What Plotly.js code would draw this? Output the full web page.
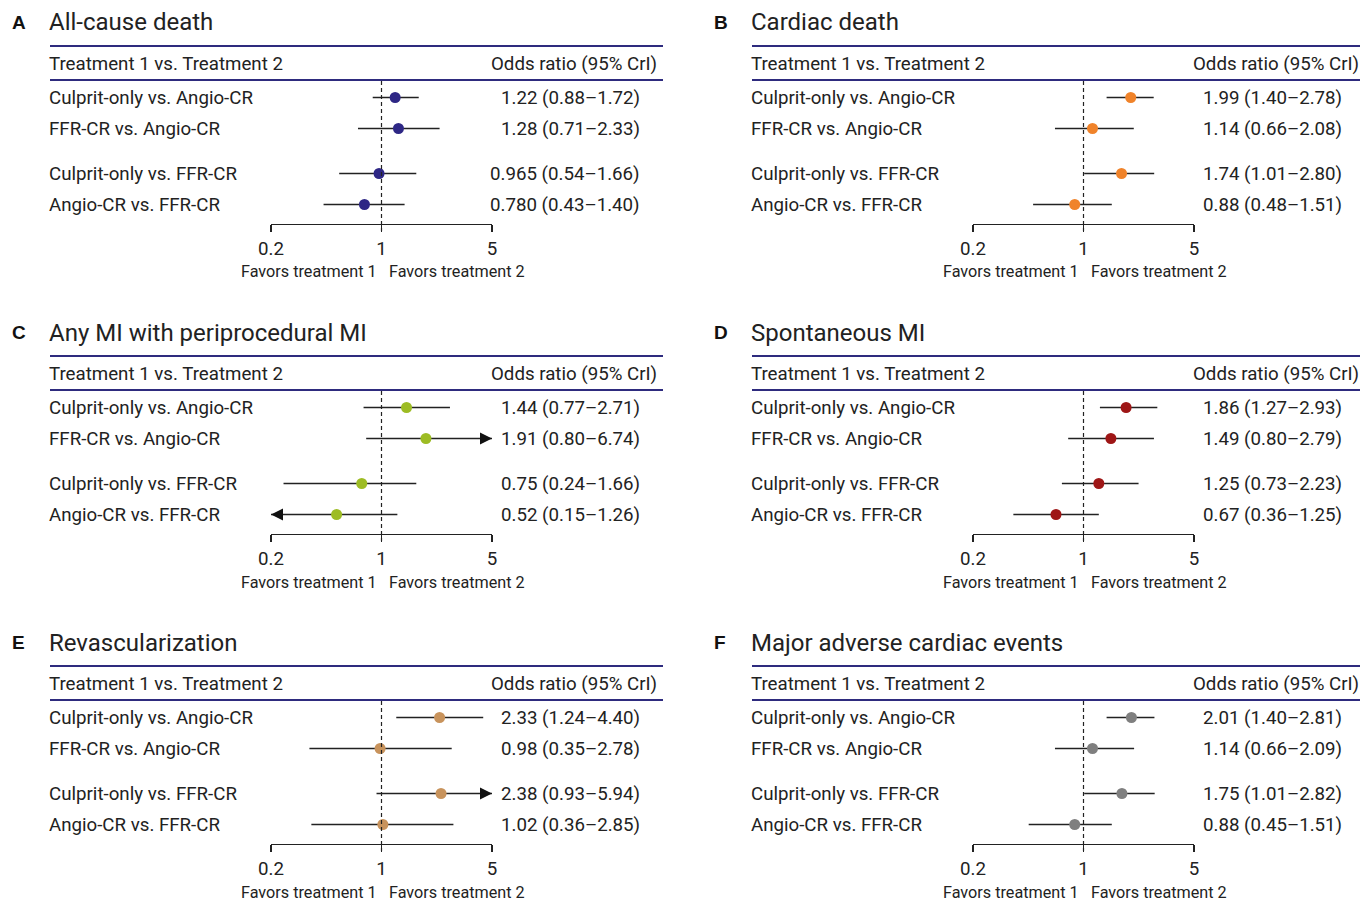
<!DOCTYPE html>
<html><head><meta charset="utf-8">
<script src="https://cdn.plot.ly/plotly-3.0.1.min.js"></script>
<style>html,body{margin:0;padding:0;background:#fff}</style>
</head><body><div id="chart" style="width:1360px;height:902px"></div>
<script>
// ---------------- data ----------------
const panelLetters = ["A", "B", "C", "D", "E", "F"];
const panelTitles = ["All-cause death", "Cardiac death", "Any MI with periprocedural MI",
  "Spontaneous MI", "Revascularization", "Major adverse cardiac events"];
const comparisons = ["Culprit-only vs. Angio-CR", "FFR-CR vs. Angio-CR",
  "Culprit-only vs. FFR-CR", "Angio-CR vs. FFR-CR"];

const allCauseOR = [1.22, 1.28, 0.965, 0.780];
const allCauseLo = [0.88, 0.71, 0.54, 0.43];
const allCauseHi = [1.72, 2.33, 1.66, 1.40];
const allCauseDigits = [2, 2, 3, 3];

const cardiacOR = [1.99, 1.14, 1.74, 0.88];
const cardiacLo = [1.40, 0.66, 1.01, 0.48];
const cardiacHi = [2.78, 2.08, 2.80, 1.51];

const anyMiOR = [1.44, 1.91, 0.75, 0.52];
const anyMiLo = [0.77, 0.80, 0.24, 0.15];
const anyMiHi = [2.71, 6.74, 1.66, 1.26];

const spontMiOR = [1.86, 1.49, 1.25, 0.67];
const spontMiLo = [1.27, 0.80, 0.73, 0.36];
const spontMiHi = [2.93, 2.79, 2.23, 1.25];

const revascOR = [2.33, 0.98, 2.38, 1.02];
const revascLo = [1.24, 0.35, 0.93, 0.36];
const revascHi = [4.40, 2.78, 5.94, 2.85];

const maceOR = [2.01, 1.14, 1.75, 0.88];
const maceLo = [1.40, 0.66, 1.01, 0.45];
const maceHi = [2.81, 2.09, 2.82, 1.51];

const defaultDigits = [2, 2, 2, 2];
const pointColors = ["#2e2785", "#f0832a", "#9dbc24", "#9e1616", "#c8935c", "#7f7f7f"];

const tickValues = [0.2, 1, 5];
const tickLabels = ["0.2", "1", "5"];
const axisMin = 0.2, axisMax = 5;
const headerLeft = "Treatment 1 vs. Treatment 2";
const headerRight = "Odds ratio (95% CrI)";
const favorsLeft = "Favors treatment 1";
const favorsRight = "Favors treatment 2";

const panels = [
  {or: allCauseOR, lo: allCauseLo, hi: allCauseHi, digits: allCauseDigits},
  {or: cardiacOR, lo: cardiacLo, hi: cardiacHi, digits: defaultDigits},
  {or: anyMiOR, lo: anyMiLo, hi: anyMiHi, digits: defaultDigits},
  {or: spontMiOR, lo: spontMiLo, hi: spontMiHi, digits: defaultDigits},
  {or: revascOR, lo: revascLo, hi: revascHi, digits: defaultDigits},
  {or: maceOR, lo: maceLo, hi: maceHi, digits: defaultDigits}
];

// ---------------- layout geometry ----------------
const W = 1360, H = 902;
const FONT = "Roboto, 'Noto Sans', Arial, sans-serif";
const TXT = "#222";
const NAVY = "#2e2b7e";
const FS = 18.7, FS_TITLE = 24, FS_FAV = 16.2;
const colOffset = 702, rowOffset = 310;
const rowGap = 31, groupGap = 14;
const rowPos = comparisons.map((_, i) => i + (i >= 2 ? groupGap / rowGap : 0));
const px = x => x / W;
const py = y => 1 - y / H;

const data = [];
const layout = {
  width: W, height: H,
  margin: {l: 0, r: 0, t: 0, b: 0},
  paper_bgcolor: "#fff", plot_bgcolor: "rgba(0,0,0,0)",
  showlegend: false,
  font: {family: FONT, color: TXT},
  shapes: [], annotations: []
};

function ann(o) {
  return Object.assign({showarrow: false, xref: "paper", yref: "paper", borderpad: 0,
    font: {family: FONT, size: FS, color: TXT}}, o);
}

panels.forEach((p, i) => {
  const c = i % 2, r = Math.floor(i / 2);
  const ox = c * colOffset, oy = r * rowOffset;
  const xa = "xaxis" + (i + 1), ya = "yaxis" + (i + 1);
  const xr = "x" + (i + 1), yr = "y" + (i + 1);

  const row0 = 97.5 + oy;           // pixel of first row
  const topPix = 81 + oy, botPix = 224 + oy;
  const yTopVal = (topPix - row0) / rowGap;
  const yBotVal = (botPix - row0) / rowGap;

  layout[xa] = {
    type: "log", range: [Math.log10(axisMin), Math.log10(axisMax)],
    domain: [px(271 + ox), px(492 + ox)], anchor: yr,
    showline: true, linecolor: "#222", linewidth: 1.3,
    ticks: "outside", ticklen: 7, tickwidth: 1.3, tickcolor: "#222",
    tickmode: "array", tickvals: tickValues, ticktext: tickLabels,
    tickfont: {family: FONT, size: FS, color: TXT}, ticklabelstandoff: 0,
    showgrid: false, zeroline: false, fixedrange: true
  };
  layout[ya] = {
    domain: [py(botPix), py(topPix)], range: [yBotVal, yTopVal], anchor: xr,
    visible: false, showgrid: false, zeroline: false, fixedrange: true
  };

  // CI lines (clipped to axis range)
  const lx = [], ly = [];
  const ax = [], ay = [], asym = [];
  p.or.forEach((v, k) => {
    lx.push(Math.max(p.lo[k], axisMin), Math.min(p.hi[k], axisMax), null);
    ly.push(rowPos[k], rowPos[k], null);
    if (p.hi[k] > axisMax) { ax.push(axisMax); ay.push(rowPos[k]); asym.push("arrow-right"); }
    if (p.lo[k] < axisMin) { ax.push(axisMin); ay.push(rowPos[k]); asym.push("arrow-left"); }
  });
  data.push({type: "scatter", mode: "lines", x: lx, y: ly, xaxis: xr, yaxis: yr,
    line: {color: "#222", width: 1.4}, hoverinfo: "skip", connectgaps: false});
  if (ax.length) {
    data.push({type: "scatter", mode: "markers", x: ax, y: ay, xaxis: xr, yaxis: yr,
      marker: {symbol: asym, size: 12, color: "#111"}, cliponaxis: false, hoverinfo: "skip"});
  }
  data.push({type: "scatter", mode: "markers", x: p.or, y: rowPos, xaxis: xr, yaxis: yr,
    marker: {symbol: "circle", size: 11, color: pointColors[i]}, cliponaxis: false,
    hoverinfo: "x"});

  // reference line at OR = 1
  layout.shapes.push({type: "line", xref: xr, yref: "paper", x0: 1, x1: 1,
    y0: py(81 + oy), y1: py(231 + oy), line: {color: "#222", width: 1.2, dash: "4px,3px"}});
  // navy rules
  [46, 80].forEach(yy => layout.shapes.push({type: "line", xref: "paper", yref: "paper",
    x0: px(50 + ox), x1: px(663 + ox + c * 10), y0: py(yy + oy), y1: py(yy + oy),
    line: {color: NAVY, width: 2}}));

  // texts
  layout.annotations.push(ann({x: px(11 + ox), y: py(22.5 + oy), xanchor: "left", yanchor: "middle",
    text: "<b>" + panelLetters[i] + "</b>", font: {family: "'Liberation Sans', Arial, sans-serif", size: 19, color: "#111"}}));
  layout.annotations.push(ann({x: px(48 + ox), y: py(22.5 + oy), xanchor: "left", yanchor: "middle",
    text: panelTitles[i], font: {family: FONT, size: FS_TITLE, color: "#222"}}));
  layout.annotations.push(ann({x: px(48 + ox), y: py(63.5 + oy), xanchor: "left", yanchor: "middle",
    text: headerLeft}));
  layout.annotations.push(ann({x: px(658 + ox), y: py(63.5 + oy), xanchor: "right", yanchor: "middle",
    text: headerRight}));
  comparisons.forEach((lab, k) => {
    layout.annotations.push(ann({x: px(48 + ox), yref: yr, y: rowPos[k], xanchor: "left", yanchor: "middle",
      text: lab}));
    const t = p.or[k].toFixed(p.digits[k]) + " (" + p.lo[k].toFixed(2) + "\u2013" + p.hi[k].toFixed(2) + ")";
    layout.annotations.push(ann({x: px(641 + ox), yref: yr, y: rowPos[k], xanchor: "right", yanchor: "middle",
      text: t}));
  });
  layout.annotations.push(ann({x: px(378 + ox), y: py(272 + oy), xanchor: "right", yanchor: "middle",
    text: favorsLeft, font: {family: FONT, size: FS_FAV, color: TXT}}));
  layout.annotations.push(ann({x: px(388 + ox), y: py(272 + oy), xanchor: "left", yanchor: "middle",
    text: favorsRight, font: {family: FONT, size: FS_FAV, color: TXT}}));
});

Plotly.newPlot("chart", data, layout, {displayModeBar: false, staticPlot: true});
</script>
</body></html>
